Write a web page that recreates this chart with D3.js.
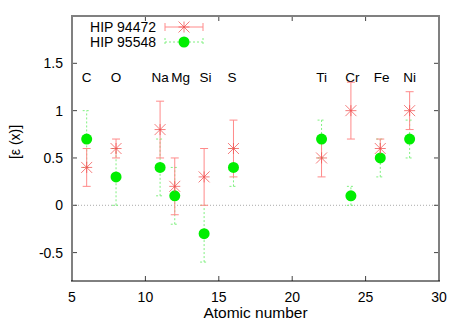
<!DOCTYPE html>
<html lang="en">
<head>
<meta charset="UTF-8">
<title>Abundances</title>
<script src="https://d3js.org/d3.v7.min.js"></script>
<style>
    body { margin: 0; background: white; }
    svg { font-family: "Liberation Sans", Arial, sans-serif; }
    text { fill: black; }
</style>
</head>
<body>
<svg></svg>
<script>
const [width, height] = [463, 324]
const margin = {left: 72, right: 24, top: 16, bottom: 43}

const elements = ['C', 'O', 'Na', 'Mg', 'Si', 'S', 'Ti', 'Cr', 'Fe', 'Ni']
const atomicNumbers = [6, 8, 11, 12, 14, 16, 22, 24, 26, 28]
const labelPos = [6, 8, 11, 12.4, 14.1, 15.9, 22, 24.1, 26.1, 28]

// HIP 94472
const starA = [0.4, 0.6, 0.8, 0.2, 0.3, 0.6, 0.5, 1.0, 0.6, 1.0]
const starAlo = [0.2, 0.5, 0.5, -0.1, 0.0, 0.3, 0.3, 0.7, 0.5, 0.8]
const starAhi = [0.6, 0.7, 1.1, 0.5, 0.6, 0.9, 0.7, 1.3, 0.7, 1.2]
// HIP 95548
const starB = [0.7, 0.3, 0.4, 0.1, -0.3, 0.4, 0.7, 0.1, 0.5, 0.7]
const starBlo = [0.4, 0.0, 0.1, -0.2, -0.6, 0.2, 0.5, 0.0, 0.3, 0.5]
const starBhi = [1.0, 0.6, 0.7, 0.4, 0.0, 0.6, 0.9, 0.2, 0.7, 0.9]

const xTicks = [5, 10, 15, 20, 25, 30]
const yTicks = [-0.5, 0, 0.5, 1, 1.5]
const labelY = 1.3

const svg = d3.select('svg').attr('width', width).attr('height', height)
const x = d3.scaleLinear().domain([5, 30]).range([margin.left, width - margin.right])
const y = d3.scaleLinear().domain([-0.8, 2.0]).range([height - margin.bottom, margin.top])
const [x0, x1, y0, y1] = [x.range()[0], x.range()[1], y.range()[0], y.range()[1]]

// zero line
svg.append('line').attr('x1', x0).attr('x2', x1).attr('y1', y(0)).attr('y2', y(0))
    .attr('stroke', '#aaa').attr('stroke-width', 1).attr('stroke-dasharray', '1,2')

// axes: ticks inside, mirrored
const tick = 5
const g = svg.append('g').attr('stroke', '#444').attr('stroke-width', 1)
xTicks.forEach(t => {
    g.append('line').attr('x1', x(t)).attr('x2', x(t)).attr('y1', y0).attr('y2', y0 - tick)
    g.append('line').attr('x1', x(t)).attr('x2', x(t)).attr('y1', y1).attr('y2', y1 + tick)
})
yTicks.forEach(t => {
    g.append('line').attr('x1', x0).attr('x2', x0 + tick).attr('y1', y(t)).attr('y2', y(t))
    g.append('line').attr('x1', x1).attr('x2', x1 - tick).attr('y1', y(t)).attr('y2', y(t))
})
svg.selectAll('.xt').data(xTicks).join('text').attr('class', 'xt')
    .attr('x', d => x(d)).attr('y', y0 + 21).attr('text-anchor', 'middle')
    .attr('font-size', 14).text(d => d)
svg.selectAll('.yt').data(yTicks).join('text').attr('class', 'yt')
    .attr('x', x0 - 9).attr('y', d => y(d) + 5).attr('text-anchor', 'end')
    .attr('font-size', 14).text(d => d)

// border: gray on left/top/right, black bottom
svg.append('path').attr('d', `M${x0} ${y0}V${y1}H${x1}V${y0}`)
    .attr('fill', 'none').attr('stroke', '#808080').attr('stroke-width', 2)
svg.append('line').attr('x1', x0 - 1).attr('x2', x1 + 1).attr('y1', y0).attr('y2', y0)
    .attr('stroke', 'black').attr('stroke-width', 1)

svg.append('text').attr('x', (x0 + x1) / 2).attr('y', height - 6).attr('text-anchor', 'middle')
    .attr('font-size', 15.5).text('Atomic number')
svg.append('text').attr('transform', `translate(20, 142)rotate(-90)`)
    .attr('text-anchor', 'middle').attr('font-size', 14).text('[ε (x)]')

// element labels
svg.selectAll('.el').data(elements).join('text').attr('class', 'el')
    .attr('x', (d, i) => x(labelPos[i])).attr('y', y(labelY))
    .attr('text-anchor', 'middle').attr('font-size', 13.5).text(d => d)

const redBar = '#ff8a8a', red = '#f05050', greenBar = '#80f080', green = '#00ee00'
const cap = 4

function errorbars(vals, lo, hi, color, dash) {
    const eg = svg.append('g').attr('stroke', color).attr('stroke-width', 1)
        .attr('stroke-dasharray', dash)
    vals.forEach((v, i) => {
        const cx = x(atomicNumbers[i])
        eg.append('line').attr('x1', cx).attr('x2', cx).attr('y1', y(lo[i])).attr('y2', y(hi[i]))
        ;[lo[i], hi[i]].forEach(e => eg.append('line')
            .attr('x1', cx - cap).attr('x2', cx + cap).attr('y1', y(e)).attr('y2', y(e)))
    })
}
function star(sel, cx, cy) {
    const r = 5.5
    sel.append('path').attr('d', `M${cx - r} ${cy - r}L${cx + r} ${cy + r}M${cx - r} ${cy + r}L${cx + r} ${cy - r}M${cx - r} ${cy}H${cx + r}M${cx} ${cy - r}V${cy + r}`)
        .attr('stroke', red).attr('stroke-width', 1).attr('fill', 'none').attr('opacity', 0.75)
}

errorbars(starB, starBlo, starBhi, greenBar, '2,2')
errorbars(starA, starAlo, starAhi, redBar, null)
svg.selectAll('.gc').data(starB).join('circle').attr('class', 'gc')
    .attr('cx', (d, i) => x(atomicNumbers[i])).attr('cy', d => y(d)).attr('r', 5.5).attr('fill', green)
starA.forEach((v, i) => star(svg, x(atomicNumbers[i]), y(v)))

// legend
const legend = [['HIP 94472', 27], ['HIP 95548', 42]]
legend.forEach(([name, ly], k) => {
    svg.append('text').attr('x', 156).attr('y', ly + 5).attr('text-anchor', 'end')
        .attr('font-size', 14).text(name)
    const lg = svg.append('g').attr('stroke', k ? greenBar : redBar)
        .attr('stroke-dasharray', k ? '2,2' : null)
    lg.append('line').attr('x1', 165).attr('x2', 203).attr('y1', ly).attr('y2', ly)
    ;[165, 203].forEach(ex => lg.append('line').attr('x1', ex).attr('x2', ex)
        .attr('y1', ly - cap).attr('y2', ly + cap))
    if (k) svg.append('circle').attr('cx', 184).attr('cy', ly).attr('r', 5.5).attr('fill', green)
    else star(svg, 184, ly)
})
</script>
</body>
</html>
